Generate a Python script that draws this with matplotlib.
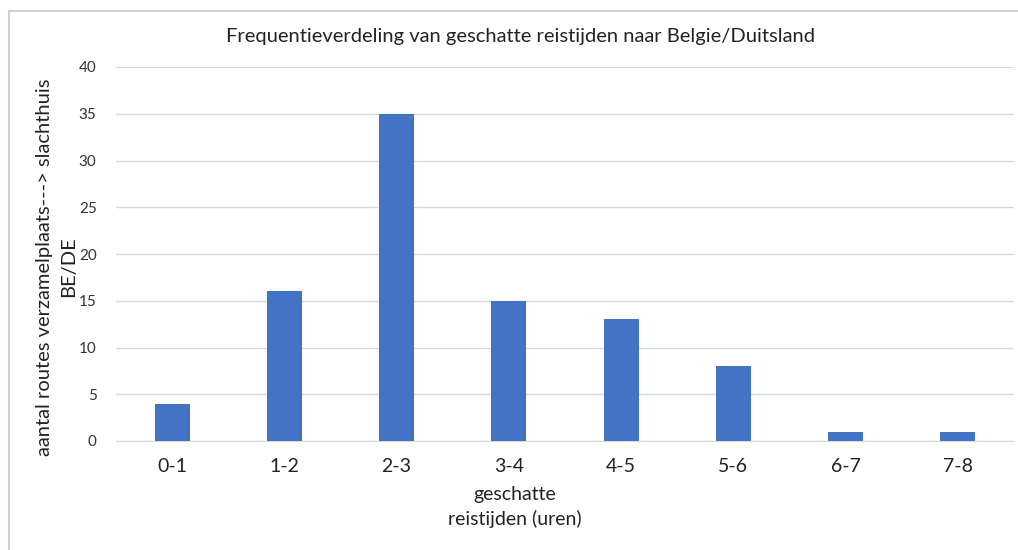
import matplotlib.pyplot as plt
from matplotlib.lines import Line2D

categories = ["0-1", "1-2", "2-3", "3-4", "4-5", "5-6", "6-7", "7-8"]
counts = [4, 16, 35, 15, 13, 8, 1, 1]

plt.rcParams["font.family"] = ["Lato", "DejaVu Sans"]

fig = plt.figure(figsize=(10.18, 5.5), dpi=100)
ax = fig.add_axes([116 / 1018, 109 / 550, 898 / 1018, 374 / 550])

x = range(len(categories))
ax.bar(x, counts, width=0.31, color="#4472C4", zorder=3)

ax.set_xlim(-0.5, len(categories) - 0.5)
ax.set_ylim(0, 40)
ax.set_yticks(range(0, 41, 5))
ax.set_xticks(list(x))
ax.set_xticklabels(categories, fontsize=14, color="#222222")
ax.tick_params(axis="y", labelsize=11, colors="#333333", length=0, pad=14)
ax.tick_params(axis="x", length=0, pad=12)

ax.grid(axis="y", color="#d9d9d9", linewidth=1, zorder=0)
for side in ["top", "right", "left"]:
    ax.spines[side].set_visible(False)
ax.spines["bottom"].set_color("#d9d9d9")

title = ax.set_title("Frequentieverdeling van geschatte reistijden naar Belgie/Duitsland",
                     fontsize=14.5, color="#222222", pad=18)
title.set_x((520 - 116) / 898)
ax.set_xlabel("geschatte\nreistijden (uren)", fontsize=14, color="#222222",
              labelpad=8, linespacing=1.45)
ax.xaxis.label.set_x((515 - 116) / 898)
ax.set_ylabel("aantal routes verzamelplaats---> slachthuis\nBE/DE", fontsize=14.5,
              color="#222222", labelpad=1, linespacing=1.5)
ax.yaxis.label.set_y(0.465)

# chart border (Excel frame), cropped on right and bottom
fig.add_artist(Line2D([8.5 / 1018, 8.5 / 1018], [0, 1 - 11 / 550], color="#d0d0d0", lw=1.5))
fig.add_artist(Line2D([8.5 / 1018, 1], [1 - 11 / 550, 1 - 11 / 550], color="#d0d0d0", lw=1.5))

fig.savefig("out.png", dpi=100)
